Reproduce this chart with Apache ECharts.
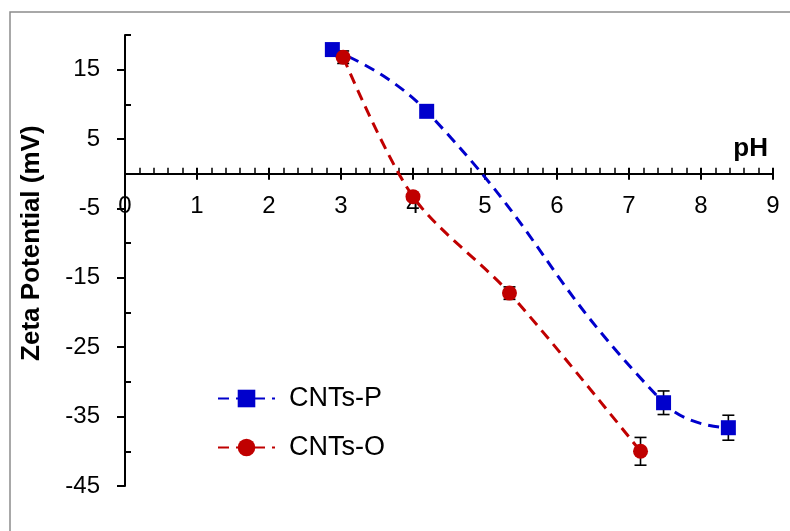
<!DOCTYPE html>
<html>
<head>
<meta charset="utf-8">
<script src="https://cdn.jsdelivr.net/npm/echarts@6/dist/echarts.min.js"></script>
<style>
  html, body { margin: 0; padding: 0; background: #fff; }
  #chart { width: 790px; height: 531px; }
</style>
</head>
<body>
<div id="chart"></div>
<script>
// values
const seriesNames = ['CNTs-P', 'CNTs-O'];
const phP = [2.88, 4.19, 7.48, 8.38];
const zetaP = [17.9, 9.0, -33.0, -36.6];
const errP = [0, 0, 1.7, 1.8];
const phO = [3.03, 4.0, 5.34, 7.16];
const zetaO = [16.8, -3.3, -17.2, -40.0];
const errO = [0.9, 0, 0.9, 2.0];

const xMin = 0, xMax = 9;
const yMin = -45, yMax = 20;

const FONT = "'Liberation Sans', Arial, sans-serif";
const BLUE = '#0000CC';
const RED = '#C00000';

// layout of the plot area
const gridLeft = 125, gridRight = 17, gridTop = 35, gridH = 451;
const pxPerUnit = gridH / (yMax - yMin);

function zip(xs, ys) { return xs.map((x, i) => [x, ys[i]]); }
function zip3(xs, ys, es) { return xs.map((x, i) => [x, ys[i], es[i]]); }

const chart = echarts.init(document.getElementById('chart'), null, { renderer: 'canvas' });

function errorBars(color) {
  return function (params, api) {
    const x = api.value(0), y = api.value(1), e = api.value(2);
    if (!e) return;
    const top = api.coord([x, y + e]);
    const bot = api.coord([x, y - e]);
    const w = 6;
    const style = { stroke: color, lineWidth: 1.6 };
    return {
      type: 'group',
      children: [
        { type: 'line', shape: { x1: top[0], y1: top[1], x2: bot[0], y2: bot[1] }, style },
        { type: 'line', shape: { x1: top[0] - w, y1: top[1], x2: top[0] + w, y2: top[1] }, style },
        { type: 'line', shape: { x1: bot[0] - w, y1: bot[1], x2: bot[0] + w, y2: bot[1] }, style }
      ]
    };
  };
}

const hiddenX = { type: 'value', min: xMin, max: xMax, show: false };
const hiddenY = { type: 'value', min: yMin, max: yMax, show: false };
const tickLine = { color: '#000', width: 2 };

chart.setOption({
  animation: false,
  backgroundColor: '#fff',
  textStyle: { fontFamily: FONT, color: '#000' },
  graphic: [{
    type: 'rect',
    shape: { x: 10, y: 12, width: 800, height: 540 },
    style: { fill: 'none', stroke: '#8c8c8c', lineWidth: 1.5 },
    silent: true
  }],
  grid: [
    // 0: data grid
    { left: gridLeft, right: gridRight, top: gridTop, height: gridH },
    // 1: y ticks pointing inward, 20 .. -40
    { left: gridLeft, right: gridRight, top: gridTop, height: 60 * pxPerUnit },
    // 2: labeled y ticks pointing outward, 15 .. -45
    { left: gridLeft, right: gridRight, top: gridTop + (yMax - 15) * pxPerUnit, height: 60 * pxPerUnit },
    // 3: upper half, its bottom edge is y = 0 (x axis line, labels, downward ticks)
    { left: gridLeft, right: gridRight, top: gridTop, height: yMax * pxPerUnit },
    // 4: lower half, its top edge is y = 0 (upward major + minor ticks)
    { left: gridLeft, right: gridRight, top: gridTop + yMax * pxPerUnit, height: -yMin * pxPerUnit }
  ],
  xAxis: [
    Object.assign({ gridIndex: 0 }, hiddenX),
    Object.assign({ gridIndex: 1 }, hiddenX),
    Object.assign({ gridIndex: 2 }, hiddenX),
    {
      gridIndex: 3, type: 'value', min: xMin, max: xMax, interval: 1,
      position: 'bottom',
      axisLine: { onZero: false, lineStyle: tickLine },
      axisTick: { show: true, inside: false, length: 6, lineStyle: tickLine },
      axisLabel: { fontSize: 24, color: '#000', margin: 21, fontFamily: FONT },
      splitLine: { show: false },
      name: 'pH', nameLocation: 'end', nameGap: -5,
      nameTextStyle: { fontSize: 26, fontWeight: 'bold', color: '#000', fontFamily: FONT,
                       align: 'right', verticalAlign: 'bottom', padding: [0, 0, 12, 0] }
    },
    {
      gridIndex: 4, type: 'value', min: xMin, max: xMax, interval: 1,
      position: 'top',
      axisLine: { show: false, onZero: false },
      axisTick: { show: true, inside: false, length: 6, lineStyle: tickLine },
      minorTick: { show: true, splitNumber: 5, length: 6, lineStyle: { color: '#000', width: 1.5 } },
      axisLabel: { show: false },
      splitLine: { show: false }
    }
  ],
  yAxis: [
    Object.assign({ gridIndex: 0 }, hiddenY),
    {
      gridIndex: 1, type: 'value', min: -40, max: 20, interval: 10,
      axisLine: { show: true, onZero: false, lineStyle: tickLine },
      axisTick: { show: true, inside: true, length: 6, lineStyle: tickLine },
      axisLabel: { show: false },
      splitLine: { show: false },
      name: 'Zeta Potential (mV)', nameLocation: 'middle', nameGap: 80, nameRotate: 90,
      nameTextStyle: { fontSize: 26, fontWeight: 'bold', color: '#000', fontFamily: FONT }
    },
    {
      gridIndex: 2, type: 'value', min: -45, max: 15, interval: 10,
      axisLine: { show: true, onZero: false, lineStyle: tickLine },
      axisTick: { show: true, inside: false, length: 8, lineStyle: tickLine },
      axisLabel: { fontSize: 24, color: '#000', margin: 25, fontFamily: FONT },
      splitLine: { show: false }
    },
    Object.assign({ gridIndex: 3 }, hiddenY),
    Object.assign({ gridIndex: 4 }, hiddenY)
  ],
  legend: {
    data: seriesNames,
    orient: 'vertical',
    left: 212, top: 380,
    itemWidth: 57, itemHeight: 22, itemGap: 22,
    textStyle: { fontSize: 27, color: '#000', fontFamily: FONT, padding: [0, 0, 0, 9] }
  },
  series: [
    {
      type: 'custom', name: 'errP', xAxisIndex: 0, yAxisIndex: 0, z: 1,
      renderItem: errorBars('#000'), data: zip3(phP, zetaP, errP), silent: true
    },
    {
      type: 'custom', name: 'errO', xAxisIndex: 0, yAxisIndex: 0, z: 1,
      renderItem: errorBars('#000'), data: zip3(phO, zetaO, errO), silent: true
    },
    {
      name: seriesNames[0], type: 'line', xAxisIndex: 0, yAxisIndex: 0, z: 3,
      data: zip(phP, zetaP), smooth: 0.5,
      symbol: 'rect', symbolSize: 15,
      itemStyle: { color: BLUE },
      lineStyle: { color: BLUE, width: 3, type: [11, 7] }
    },
    {
      name: seriesNames[1], type: 'line', xAxisIndex: 0, yAxisIndex: 0, z: 3,
      data: zip(phO, zetaO), smooth: 0.3,
      symbol: 'circle', symbolSize: 15,
      itemStyle: { color: RED },
      lineStyle: { color: RED, width: 3, type: [11, 7] }
    }
  ]
});
</script>
</body>
</html>
